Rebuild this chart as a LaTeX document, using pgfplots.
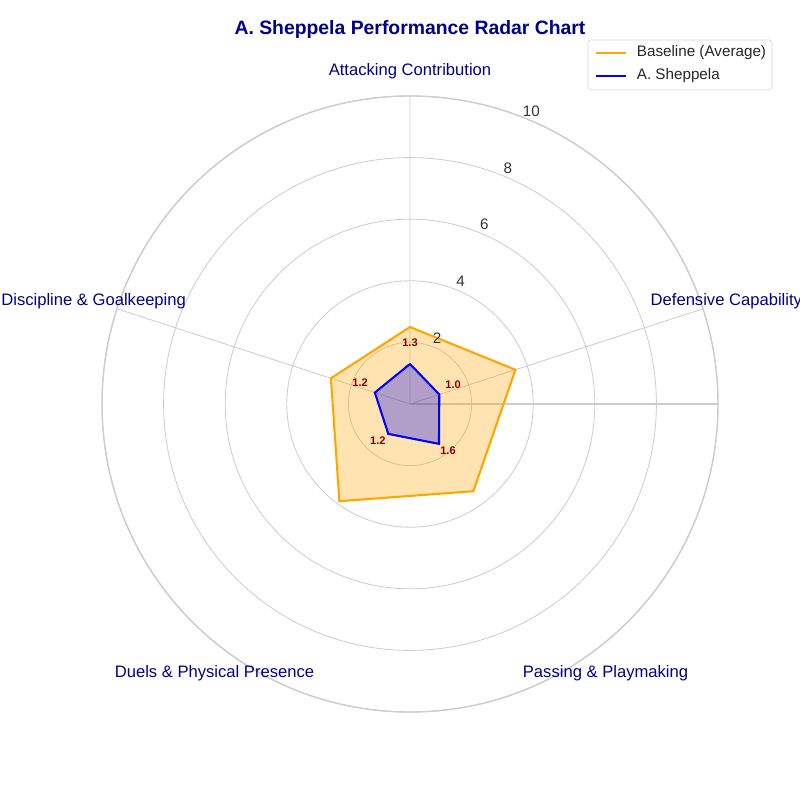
\documentclass[border=0pt]{standalone}
\usepackage{pgfplots}
\pgfplotsset{compat=1.18}
\usepgfplotslibrary{polar}
\usepackage{fontspec}
\setmainfont{Liberation Sans}
\definecolor{dblue}{RGB}{0,0,139}
\definecolor{dred}{RGB}{139,0,0}
\definecolor{gridc}{RGB}{204,204,204}
\definecolor{orng}{RGB}{255,165,0}
\begin{document}
\begin{tikzpicture}
\path[use as bounding box] (0,0) rectangle (8in,8in);
\node[font=\fontsize{14}{16}\selectfont\bfseries, text=dblue] at (4.10in,7.70in) {A. Sheppela Performance Radar Chart};
\begin{polaraxis}[at={(4.10in,3.96in)}, anchor=center, scale only axis,
  width=6.16in, height=6.16in, ymin=0, ymax=10,
  xtick={90,18,-54,-126,162}, xticklabels={}, ytick={2,4,6,8,10}, yticklabels={},
  grid=major, major grid style={gridc, line width=0.6pt},
  axis line style={gridc, line width=1pt}, major tick length=0,
  clip=false]
\addplot[orng, line width=1.5pt, fill=orng, fill opacity=0.3, draw opacity=1] coordinates {(90,2.5) (18,3.6) (-54,3.5) (-126,3.9) (162,2.7) (90,2.5)};
\addplot[blue, line width=1.5pt, fill=blue, fill opacity=0.3, draw opacity=1] coordinates {(90,1.3) (18,1.0) (-54,1.6) (-126,1.2) (162,1.2) (90,1.3)};
\node[font=\fontsize{11}{13}\selectfont, text=black!80] at (axis cs:67.5,2.3) {2};
\node[font=\fontsize{11}{13}\selectfont, text=black!80] at (axis cs:67.5,4.3) {4};
\node[font=\fontsize{11}{13}\selectfont, text=black!80] at (axis cs:67.5,6.3) {6};
\node[font=\fontsize{11}{13}\selectfont, text=black!80] at (axis cs:67.5,8.3) {8};
\node[font=\fontsize{11}{13}\selectfont, text=black!80] at (axis cs:67.5,10.3) {10};
\node[font=\fontsize{12}{14}\selectfont, text=dblue] at (axis cs:90,10.8) {Attacking Contribution};
\node[font=\fontsize{12}{14}\selectfont, text=dblue] at (axis cs:18,10.8) {Defensive Capability};
\node[font=\fontsize{12}{14}\selectfont, text=dblue] at (axis cs:-54,10.8) {Passing \& Playmaking};
\node[font=\fontsize{12}{14}\selectfont, text=dblue] at (axis cs:-126,10.8) {Duels \& Physical Presence};
\node[font=\fontsize{12}{14}\selectfont, text=dblue] at (axis cs:162,10.8) {Discipline \& Goalkeeping};
\node[font=\fontsize{8}{9}\selectfont\bfseries, text=dred] at (axis cs:90,1.98) {1.3};
\node[font=\fontsize{8}{9}\selectfont\bfseries, text=dred] at (axis cs:24,1.53) {1.0};
\node[font=\fontsize{8}{9}\selectfont\bfseries, text=dred] at (axis cs:-51,1.96) {1.6};
\node[font=\fontsize{8}{9}\selectfont\bfseries, text=dred] at (axis cs:-131,1.59) {1.2};
\node[font=\fontsize{8}{9}\selectfont\bfseries, text=dred] at (axis cs:157,1.76) {1.2};
\end{polaraxis}
\draw[gridc!80!white, rounded corners=2pt, fill=white] (5.88in,7.10in) rectangle (7.72in,7.60in);
\draw[orng, line width=1.5pt] (5.96in,7.47in) -- (6.26in,7.47in);
\draw[blue, line width=1.5pt] (5.96in,7.24in) -- (6.26in,7.24in);
\node[anchor=west, font=\fontsize{11}{13}\selectfont, text=black!85] at (6.32in,7.47in) {Baseline (Average)};
\node[anchor=west, font=\fontsize{11}{13}\selectfont, text=black!85] at (6.32in,7.24in) {A. Sheppela};
\end{tikzpicture}
\end{document}
